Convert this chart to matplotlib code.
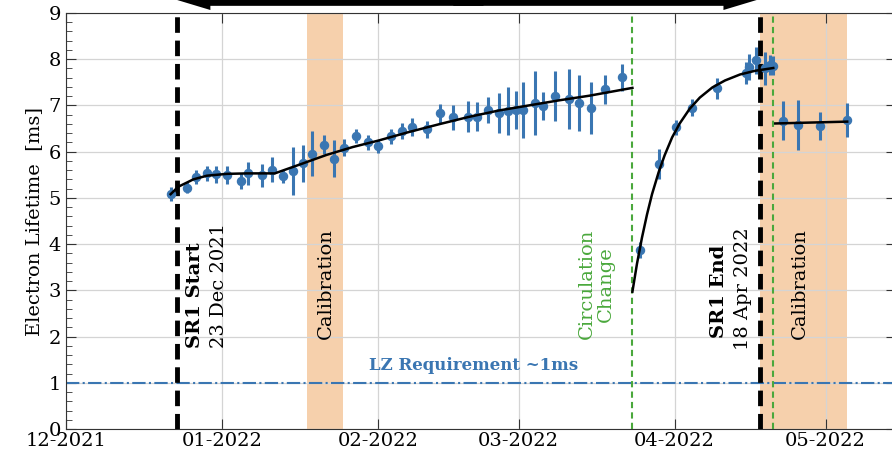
import numpy as np
import matplotlib
matplotlib.use('Agg')
import matplotlib.pyplot as plt
import matplotlib.dates as mdates
import matplotlib.transforms as mtransforms
from matplotlib.patches import FancyArrow
from matplotlib.ticker import MultipleLocator

plt.rcParams['font.family'] = 'DejaVu Serif'

# measurement times in days after 2021-12-01
days = [20.8, 24.0, 25.8, 28.0, 29.8, 32.0, 34.8, 36.2, 38.9, 41.0, 43.1, 45.1,
        47.1, 49.0, 51.2, 53.3, 55.3, 57.7, 60.0, 62.1, 64.6, 66.7, 68.8, 71.8,
        74.4, 77.0, 80.0, 81.8, 83.8, 86.1, 87.8, 89.4, 90.9, 93.2, 94.8, 97.2,
        99.9, 101.9, 104.3, 107.2, 110.5,
        114.2, 117.8, 121.3, 124.4, 129.4, 135.2, 135.8, 137.2, 139.0, 139.9, 140.6,
        142.5, 145.5, 149.9, 155.3]
# electron lifetime [ms]
life = [5.08, 5.22, 5.45, 5.53, 5.51, 5.49, 5.37, 5.53, 5.49, 5.61, 5.47, 5.59,
        5.75, 5.96, 6.15, 5.85, 6.09, 6.34, 6.20, 6.12, 6.33, 6.44, 6.53, 6.48,
        6.83, 6.74, 6.76, 6.76, 6.90, 6.83, 6.88, 6.90, 6.90, 7.05, 6.99, 7.20,
        7.13, 7.05, 6.94, 7.35, 7.61,
        3.87, 5.73, 6.53, 6.95, 7.37, 7.70, 7.83, 7.98, 7.80, 7.88, 7.86,
        6.67, 6.58, 6.56, 6.69]
err = [0.15, 0.12, 0.16, 0.16, 0.18, 0.2, 0.17, 0.25, 0.25, 0.27, 0.14, 0.52,
       0.4, 0.48, 0.2, 0.4, 0.18, 0.15, 0.16, 0.14, 0.17, 0.17, 0.2, 0.19,
       0.2, 0.27, 0.34, 0.32, 0.29, 0.43, 0.52, 0.41, 0.6, 0.69, 0.31, 0.54,
       0.65, 0.61, 0.56, 0.31, 0.29,
       0.18, 0.32, 0.16, 0.18, 0.23, 0.23, 0.29, 0.29, 0.36, 0.22, 0.2,
       0.42, 0.54, 0.3, 0.37]

# fitted trends
fit1_days = [20.8, 22.3, 24.0, 25.3, 28.0, 32.0, 36.0, 41.5, 47.2, 51.8, 57.0,
             62.1, 68.0, 74.4, 80.0, 86.0, 92.0, 98.0, 104.0, 112.6]
fit1_vals = [5.08, 5.24, 5.33, 5.40, 5.48, 5.52, 5.53, 5.53, 5.75, 5.93, 6.10,
             6.24, 6.42, 6.60, 6.75, 6.89, 7.00, 7.11, 7.21, 7.38]
fit2_days = [112.6, 113.5, 114.5, 115.5, 116.5, 117.8, 119.0, 120.5, 122.0,
             124.0, 126.0, 128.5, 131.0, 134.0, 137.0, 140.6]
fit2_vals = [2.97, 3.57, 4.14, 4.64, 5.08, 5.55, 5.92, 6.31, 6.61, 6.93, 7.17,
             7.39, 7.54, 7.67, 7.75, 7.81]
fit3_days = [141.0, 155.3]
fit3_vals = [6.61, 6.65]

# events (days after 2021-12-01)
sr1_start = 22.0
sr1_end = 138.0
circ_change = 112.6
circ_change2 = 140.6
calib1 = (48.0, 55.1)
calib2 = (138.0, 155.2)
lz_req = 1.0

blue = '#3a76b2'
green = '#4aa83c'
peach = '#f6d0ac'

t0 = mdates.datestr2num('2021-12-01')
def d(x):
    return t0 + np.asarray(x, dtype=float)

fig = plt.figure(figsize=(8.92, 4.51), dpi=100)
ax = fig.add_axes([66/892, 22/451, 830/892, 416/451])

ax.axvspan(d(calib1[0]), d(calib1[1]), color=peach, zorder=0, lw=0)
ax.axvspan(d(calib2[0]), d(calib2[1]), color=peach, zorder=0, lw=0)

ax.axhline(lz_req, color=blue, lw=1.5, ls='-.', zorder=2)
ax.axvline(d(sr1_start), color='k', lw=3.5, ls=(0, (3.2, 1.6)), zorder=3)
ax.axvline(d(sr1_end), color='k', lw=3.5, ls=(0, (3.2, 1.6)), zorder=3)
ax.axvline(d(circ_change), color=green, lw=1.5, ls=(0, (3, 2)), zorder=3)
ax.axvline(d(circ_change2), color=green, lw=1.5, ls=(0, (3, 2)), zorder=3)

ax.errorbar(d(days), life, yerr=err, fmt='o', color=blue, ms=5.8,
            elinewidth=2.2, capsize=0, zorder=4)
ax.plot(d(fit1_days), fit1_vals, color='k', lw=1.8, zorder=5)
ax.plot(d(fit2_days), fit2_vals, color='k', lw=1.8, zorder=5)
ax.plot(d(fit3_days), fit3_vals, color='k', lw=1.8, zorder=5)

ax.text(d(25.6), 1.75, 'SR1 Start', rotation=90, ha='center', va='bottom',
        fontsize=14, fontweight='bold')
ax.text(d(30.4), 1.75, '23 Dec 2021', rotation=90, ha='center', va='bottom',
        fontsize=14)
ax.text(d(51.7), 3.14, 'Calibration', rotation=90, ha='center', va='center',
        fontsize=14)
ax.text(d(105.4), 3.14, 'Circulation\nChange', rotation=90, ha='center',
        va='center', multialignment='center', fontsize=14, color=green,
        linespacing=1.05)
ax.text(d(129.9), 2.98, 'SR1 End', rotation=90, ha='center', va='center',
        fontsize=14, fontweight='bold')
ax.text(d(134.6), 3.04, '18 Apr 2022', rotation=90, ha='center', va='center',
        fontsize=14)
ax.text(d(145.9), 3.14, 'Calibration', rotation=90, ha='center', va='center',
        fontsize=14)
ax.text(d(81.1), 1.38, 'LZ Requirement ~1ms', ha='center', va='center',
        fontsize=12, fontweight='bold', color=blue)

# run duration arrow above the axes, two overlapping halves pointing outwards
trans = mtransforms.blended_transform_factory(ax.transData, ax.transAxes)
mid = (sr1_start + sr1_end) / 2
for tip, start in ((sr1_start - 0.3, mid + 3), (sr1_end - 0.3, mid - 3)):
    arr = FancyArrow(d(start), 1.0327, d(tip) - d(start), 0, width=0.031,
                     head_width=0.051, head_length=7.0,
                     length_includes_head=True, color='k', lw=0,
                     transform=trans, clip_on=False)
    ax.add_patch(arr)

ax.set_xlim(d(0), d(165))
ax.set_ylim(0, 9)
ax.xaxis.set_major_locator(mdates.MonthLocator())
ax.xaxis.set_major_formatter(mdates.DateFormatter('%m-%Y'))
ax.yaxis.set_major_locator(MultipleLocator(1))
ax.yaxis.set_minor_locator(MultipleLocator(0.2))
ax.tick_params(which='major', direction='in', length=7, labelsize=14,
               top=True, right=True, color='#333333')
ax.tick_params(which='minor', direction='in', length=4, right=False,
               color='#333333')
ax.tick_params(axis='x', pad=2)
ax.grid(True, which='major', color='#d4d4d4', lw=0.9, zorder=1)
ax.set_axisbelow(True)
ax.set_ylabel('Electron Lifetime  [ms]', fontsize=14, labelpad=4)
for s in ax.spines.values():
    s.set_color('#333333')

fig.savefig('out.png', dpi=100)
